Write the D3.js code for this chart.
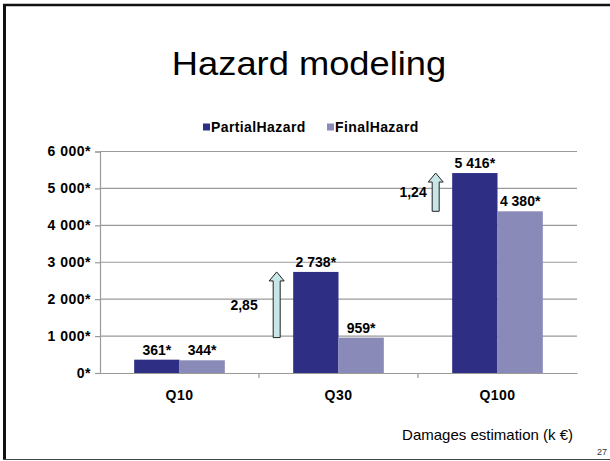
<!DOCTYPE html>
<html>
<head>
<meta charset="utf-8">
<script src="https://cdn.jsdelivr.net/npm/d3@7"></script>
<style>
  body { margin: 0; background: #fff; }
  svg text { font-family: Arial, "Liberation Sans", sans-serif; }
</style>
</head>
<body>
<svg id="chart" width="610" height="461"></svg>
<script>
// Data
const categories = ['Q10', 'Q30', 'Q100'];
const partialHazard = [361, 2738, 5416];
const finalHazard = [344, 959, 4380];
const seriesNames = ['PartialHazard', 'FinalHazard'];
const yTicks = [0, 1000, 2000, 3000, 4000, 5000, 6000];
// ratio arrows (partial / final), shown for Q30 and Q100
const ratioCats = ['Q30', 'Q100'];
const ratioLabels = ['2,85', '1,24'];

const colors = ['#2e2e85', '#8a8ab9'];
const gridColor = '#9a9a9a';
const ratioLabelGap = [19, 9];

const svg = d3.select('#chart');
const margin = {left: 100, right: 33, top: 151.5, bottom: 88};
const W = 610, H = 461;

const fmt = d3.formatLocale({decimal: ',', thousands: '\u00a0', grouping: [3], currency: ['', '']}).format(',d');
const starFmt = v => fmt(v) + '*';

// Slide frame
svg.append('line').attr('x1', 3).attr('x2', W).attr('y1', 5).attr('y2', 5)
  .attr('stroke', '#111').attr('stroke-width', 2.5);
svg.append('line').attr('x1', 4.5).attr('x2', 4.5).attr('y1', 4).attr('y2', 460)
  .attr('stroke', '#111').attr('stroke-width', 3);
svg.append('line').attr('x1', 3).attr('x2', W).attr('y1', 459.5).attr('y2', 459.5)
  .attr('stroke', '#444').attr('stroke-width', 1);

// Title
svg.append('text')
  .attr('transform', 'translate(309, 75) scale(1.1, 1)')
  .attr('text-anchor', 'middle')
  .style('font-size', '33px')
  .text('Hazard modeling');

// Scales
const x0 = d3.scaleBand()
  .domain(categories)
  .range([margin.left, W - margin.right])
  .paddingInner(0.43)
  .paddingOuter(0.215);
const x1 = d3.scaleBand()
  .domain(seriesNames)
  .range([0, x0.bandwidth()]);
const y = d3.scaleLinear()
  .domain([0, 6000])
  .range([H - margin.bottom, margin.top]);

// Gridlines
svg.append('g')
  .selectAll('line')
  .data(yTicks.filter(t => t > 0))
  .join('line')
  .attr('x1', margin.left).attr('x2', W - margin.right)
  .attr('y1', d => y(d)).attr('y2', d => y(d))
  .attr('stroke', gridColor).attr('stroke-width', 1.2);

// Y axis
const yAxis = svg.append('g')
  .attr('transform', `translate(${margin.left},0)`)
  .call(d3.axisLeft(y).tickValues(yTicks).tickSize(5).tickPadding(4).tickFormat(starFmt));
yAxis.selectAll('path, line').attr('stroke', gridColor).attr('stroke-width', 1.2);
yAxis.selectAll('text')
  .attr('fill', '#000')
  .style('font-size', '14px')
  .style('font-weight', 'bold')
  .style('letter-spacing', '0.5px')
  .style('font-family', 'Arial, "Liberation Sans", sans-serif');

// X axis
const xAxis = svg.append('g')
  .attr('transform', `translate(0,${y(0)})`)
  .call(d3.axisBottom(x0).tickSize(0).tickPadding(17));
xAxis.select('path').attr('stroke', gridColor).attr('stroke-width', 1.2);
xAxis.selectAll('text')
  .attr('fill', '#000')
  .style('font-size', '14px')
  .style('font-weight', 'bold')
  .style('letter-spacing', '0.5px')
  .style('font-family', 'Arial, "Liberation Sans", sans-serif');
// category separator ticks
const step = x0.step();
svg.append('g')
  .selectAll('line')
  .data(categories.slice(1))
  .join('line')
  .attr('x1', d => x0(d) - step * x0.paddingInner() / 2)
  .attr('x2', d => x0(d) - step * x0.paddingInner() / 2)
  .attr('y1', y(0)).attr('y2', y(0) + 5)
  .attr('stroke', gridColor).attr('stroke-width', 1.2);

// Bars
const rows = categories.map((c, i) => ({cat: c, values: [partialHazard[i], finalHazard[i]]}));
const groups = svg.append('g')
  .selectAll('g')
  .data(rows)
  .join('g')
  .attr('transform', d => `translate(${x0(d.cat)},0)`);

groups.selectAll('rect')
  .data(d => d.values.map((v, k) => ({key: seriesNames[k], v, k})))
  .join('rect')
  .attr('x', d => x1(d.key))
  .attr('y', d => y(d.v))
  .attr('width', x1.bandwidth())
  .attr('height', d => y(0) - y(d.v))
  .attr('fill', d => colors[d.k]);

groups.selectAll('text.val')
  .data(d => d.values.map((v, k) => ({key: seriesNames[k], v, k})))
  .join('text')
  .attr('class', 'val')
  .attr('x', d => x1(d.key) + x1.bandwidth() / 2)
  .attr('y', d => y(d.v) - 5)
  .attr('text-anchor', 'middle')
  .style('font-size', '14px')
  .style('font-weight', 'bold')
  .text(d => starFmt(d.v));

// Ratio arrows
const arrowData = ratioCats.map((c, i) => {
  const idx = categories.indexOf(c);
  return {cat: c, label: ratioLabels[i], gap: ratioLabelGap[i], from: finalHazard[idx], to: partialHazard[idx]};
});
const arrows = svg.append('g')
  .selectAll('g')
  .data(arrowData)
  .join('g')
  .attr('transform', d => `translate(${x0(d.cat) - 16.5},0)`);

arrows.append('path')
  .attr('d', d => {
    const y0 = y(d.from), yt = y(d.to), hw = 7.5, sw = 3.5, hh = 9;
    return `M${-sw},${y0}L${-sw},${yt + hh}L${-hw},${yt + hh}L0,${yt}L${hw},${yt + hh}L${sw},${yt + hh}L${sw},${y0}Z`;
  })
  .attr('fill', '#c6e6e8')
  .attr('stroke', '#222')
  .attr('stroke-width', 1);

arrows.append('text')
  .attr('x', d => -d.gap)
  .attr('y', d => (y(d.from) + y(d.to)) / 2 + 5)
  .attr('text-anchor', 'end')
  .style('font-size', '14px')
  .style('font-weight', 'bold')
  .text(d => d.label);

// Legend
const legendX = [203, 327];
const legend = svg.append('g')
  .selectAll('g')
  .data(seriesNames)
  .join('g')
  .attr('transform', (d, i) => `translate(${legendX[i]}, 127)`);
legend.append('rect')
  .attr('x', 0).attr('y', -3.5)
  .attr('width', 7).attr('height', 7)
  .attr('fill', (d, i) => colors[i]);
legend.append('text')
  .attr('x', 8).attr('y', 5)
  .style('font-size', '14px')
  .style('font-weight', 'bold')
  .style('letter-spacing', '0.4px')
  .text(d => d);

// Footnote and slide number
svg.append('text')
  .attr('x', 573).attr('y', 440)
  .attr('text-anchor', 'end')
  .style('font-size', '15px')
  .text('Damages estimation (k \u20ac)');
svg.append('text')
  .attr('x', 607).attr('y', 455)
  .attr('text-anchor', 'end')
  .attr('fill', '#333')
  .style('font-size', '9px')
  .text('27');
</script>
</body>
</html>
